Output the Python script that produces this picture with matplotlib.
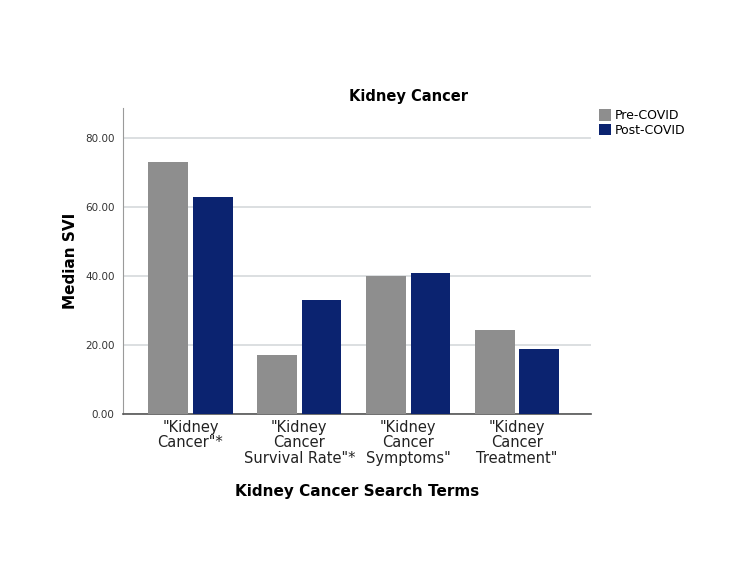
import numpy as np
import matplotlib
matplotlib.use("Agg")
import matplotlib.pyplot as plt

# Data
terms = ['"Kidney\nCancer"*', '"Kidney\nCancer\nSurvival Rate"*',
         '"Kidney\nCancer\nSymptoms"', '"Kidney\nCancer\nTreatment"']
pre_covid = [73, 17, 40, 24.5]
post_covid = [63, 33, 41, 19]
yticks = [0, 20, 40, 60, 80]

plt.rcParams['font.family'] = ['DejaVu Sans']

fig = plt.figure(figsize=(7.5, 5.8), dpi=100)
ax = fig.add_axes([0.164, 0.286, 0.624, 0.528])

x = np.arange(len(terms))
w = 0.365
ax.bar(x - 0.205, pre_covid, w, color='#8e8e8e', label='Pre-COVID', zorder=3)
ax.bar(x + 0.205, post_covid, w, color='#0b2370', label='Post-COVID', zorder=3)

ax.set_xlim(-0.62, 3.68)
ax.set_ylim(0, 88.7)
ax.set_yticks(yticks)
ax.set_yticklabels([f'{v:.2f}' for v in yticks], fontsize=7.5, color='#333333')
ax.set_xticks(x)
ax.set_xticklabels(terms, fontsize=10.5, color='#222222', linespacing=1.05)
ax.tick_params(axis='x', length=0, pad=4)
ax.tick_params(axis='y', length=0, pad=6)
ax.yaxis.grid(True, color='#d6d9dc', linewidth=1.2, zorder=0)

for side in ['top', 'right']:
    ax.spines[side].set_visible(False)
ax.spines['left'].set_color('#9a9a9a')
ax.spines['bottom'].set_color('#555555')
ax.spines['bottom'].set_linewidth(1.2)

ax.set_ylabel('Median SVI', fontsize=11, fontweight='bold', labelpad=5)
ax.set_xlabel('Kidney Cancer Search Terms', fontsize=11, fontweight='bold', labelpad=13)
fig.text(0.544, 0.833, 'Kidney Cancer', ha='center', va='center',
         fontsize=10.5, fontweight='bold')

ax.legend(loc='upper left', bbox_to_anchor=(1.0, 1.02), frameon=False,
          fontsize=9, handlelength=1.0, handleheight=1.0, handletextpad=0.3,
          labelspacing=0.15, borderaxespad=0.2)

fig.savefig('out.png', dpi=100, facecolor='white')
